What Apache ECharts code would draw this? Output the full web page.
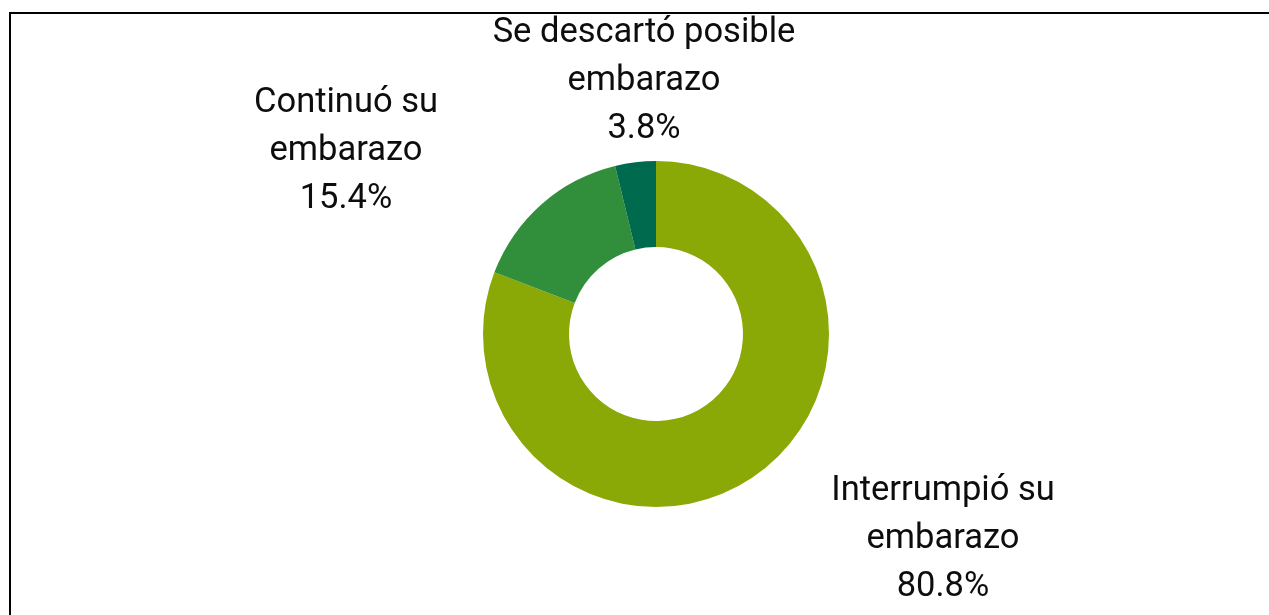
<!DOCTYPE html>
<html>
<head>
<meta charset="utf-8">
<script src="https://cdn.jsdelivr.net/npm/echarts@6/dist/echarts.min.js"></script>
<style>
html,body{margin:0;padding:0;background:#fff;}
#chart{width:1269px;height:615px;}
</style>
</head>
<body>
<div id="chart"></div>
<script>
const categories = ['Interrumpió su\nembarazo', 'Continuó su\nembarazo', 'Se descartó posible\nembarazo'];
const values = [80.8, 15.4, 3.8];
const colors = ['#8aa806', '#318f3c', '#006a4e'];
const labelPos = [[943, 539], [346, 151], [644, 81]];

const chart = echarts.init(document.getElementById('chart'), null, {renderer: 'canvas'});
chart.setOption({
  animation: false,
  backgroundColor: '#ffffff',
  graphic: [{
    type: 'rect',
    shape: {x: 10, y: 13, width: 1400, height: 800},
    style: {fill: 'none', stroke: '#000', lineWidth: 2},
    silent: true
  }],
  series: [{
    type: 'pie',
    center: [656, 334],
    radius: [87, 173],
    startAngle: 90,
    clockwise: true,
    label: {
      show: true,
      position: 'outside',
      formatter: p => p.name + '\n' + p.value.toFixed(1) + '%',
      fontFamily: 'Roboto',
      fontSize: 34.5,
      lineHeight: 48,
      color: '#0d0d0d',
      align: 'center'
    },
    labelLine: {show: false},
    labelLayout: function (params) {
      const pos = labelPos[params.dataIndex];
      return {x: pos[0], y: pos[1], align: 'center', verticalAlign: 'middle'};
    },
    data: categories.map((c, i) => ({name: c, value: values[i], itemStyle: {color: colors[i]}}))
  }]
});
</script>
</body>
</html>
